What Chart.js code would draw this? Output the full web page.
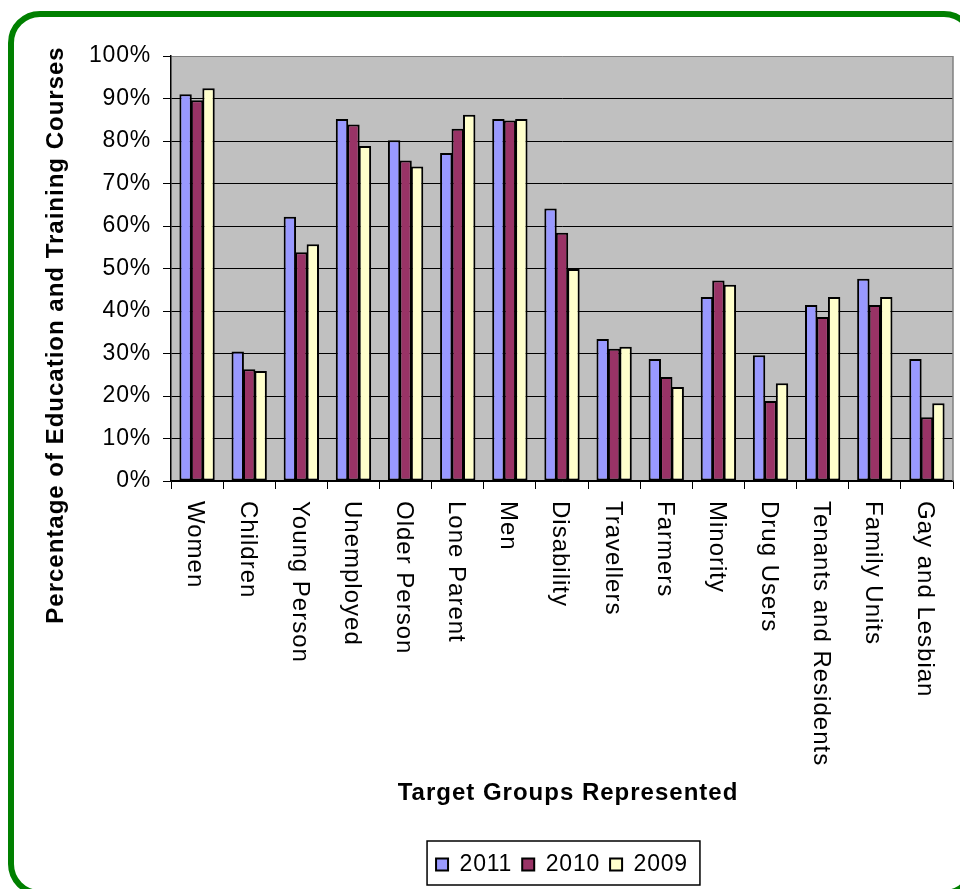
<!DOCTYPE html>
<html>
<head>
<meta charset="utf-8">
<title>Target Groups Represented</title>
<script src="https://cdn.jsdelivr.net/npm/chart.js@4.4.1/dist/chart.umd.min.js"></script>
<style>
    html, body {
        margin: 0;
        padding: 0;
        width: 960px;
        height: 889px;
        overflow: hidden;
        background: #ffffff;
    }

    #frame {
        position: absolute;
        left: 8px;
        top: 11px;
        width: 968px;
        height: 885px;
        box-sizing: border-box;
        border: 6px solid #008000;
        border-radius: 32px;
    }

    #chart {
        position: absolute;
        left: 0;
        top: 0;
    }
</style>
</head>
<body>
<div id="frame"></div>
<canvas id="chart" width="960" height="889"></canvas>

<script>
const categories = [
    "Women", "Children", "Young Person", "Unemployed", "Older Person",
    "Lone Parent", "Men", "Disability", "Travellers", "Farmers",
    "Minority", "Drug Users", "Tenants and Residents", "Family Units", "Gay and Lesbian",
];

const years = ["2011", "2010", "2009"];

const values2011 = [91.0, 30.5, 62.2, 85.2, 80.2, 77.2, 85.2, 64.1, 33.4, 28.7, 43.3, 29.6, 41.4, 47.6, 28.7];
const values2010 = [89.6, 26.3, 53.8, 83.9, 75.4, 82.9, 84.8, 58.4, 31.1, 24.5, 47.2, 18.8, 38.6, 41.4, 15.0];
const values2009 = [92.4, 25.9, 55.7, 78.8, 74.0, 86.2, 85.2, 49.9, 31.6, 22.1, 46.2, 23.0, 43.3, 43.3, 18.3];

const barColors = ["#9999ff", "#993366", "#ffffcc"];

const yTitle = "Percentage of Education and Training Courses";
const xTitle = "Target Groups Represented";

const fontFamily = "'Liberation Sans', Arial, Helvetica, sans-serif";

Chart.defaults.font.family = fontFamily;
Chart.defaults.color = "#000000";

// wider letter spacing, the original text runs a bit wide
const spacing = {
    id: "spacing",
    beforeLayout(chart) {
        chart.ctx.letterSpacing = "0.8px";
    },
    beforeDraw(chart) {
        chart.ctx.letterSpacing = "0.8px";
    },
};

// grey plot area plus its grey right edge
const plotArea = {
    id: "plotArea",
    beforeDraw(chart) {
        const { ctx, chartArea } = chart;
        ctx.save();
        ctx.fillStyle = "#c0c0c0";
        ctx.fillRect(chartArea.left, chartArea.top, chartArea.right - chartArea.left, chartArea.bottom - chartArea.top);
        ctx.restore();
    },
    beforeDatasetsDraw(chart) {
        const { ctx, chartArea } = chart;
        ctx.save();
        ctx.strokeStyle = "#808080";
        ctx.lineWidth = 1.5;
        ctx.beginPath();
        ctx.moveTo(chartArea.right, chartArea.top);
        ctx.lineTo(chartArea.right, chartArea.bottom);
        ctx.stroke();
        ctx.restore();
    },
};

// category labels read top to bottom, y title placed like the original
const labelsAndTitle = {
    id: "labelsAndTitle",
    afterDraw(chart) {
        const { ctx } = chart;
        const xScale = chart.scales.x;

        ctx.save();
        ctx.letterSpacing = "1px";
        ctx.fillStyle = "#000000";
        ctx.font = "24px " + fontFamily;
        ctx.textAlign = "left";
        ctx.textBaseline = "alphabetic";
        const capHalf = 24 * 0.716 / 2;

        categories.forEach((label, i) => {
            const x = xScale.getPixelForValue(i);
            ctx.save();
            ctx.translate(x - capHalf, 501);
            ctx.rotate(Math.PI / 2);
            ctx.fillText(label, 0, 0);
            ctx.restore();
        });

        ctx.font = "bold 24px " + fontFamily;
        ctx.textAlign = "center";
        ctx.translate(63, 335);
        ctx.rotate(-Math.PI / 2);
        ctx.fillText(yTitle, 0, 0);
        ctx.restore();

        // x title, a little right of the axis centre as in the original
        ctx.save();
        ctx.letterSpacing = "1px";
        ctx.fillStyle = "#000000";
        ctx.font = "bold 24px " + fontFamily;
        ctx.textAlign = "center";
        ctx.textBaseline = "middle";
        ctx.fillText(xTitle, (xScale.left + xScale.right) / 2 + 6, 793);
        ctx.restore();

        // box round the legend
        const legend = chart.legend;
        const boxes = legend.legendHitBoxes;
        const last = boxes[boxes.length - 1];
        const left = boxes[0].left - 9;
        const right = last.left + last.width + 12;
        ctx.save();
        ctx.strokeStyle = "#000000";
        ctx.lineWidth = 1.5;
        ctx.strokeRect(left, legend.top - 2, right - left, legend.bottom - legend.top + 1);
        ctx.restore();
    },
};

const myChart = new Chart(document.getElementById("chart"), {
    type: "bar",
    plugins: [spacing, plotArea, labelsAndTitle],
    data: {
        labels: categories,
        datasets: [
            { label: years[0], data: values2011 },
            { label: years[1], data: values2010 },
            { label: years[2], data: values2009 },
        ].map((ds, i) => ({
            ...ds,
            backgroundColor: barColors[i],
            borderColor: "#000000",
            borderWidth: 2,
            borderSkipped: false,
            categoryPercentage: 0.66,
            barPercentage: 1.08,
        })),
    },
    options: {
        responsive: false,
        animation: false,
        layout: {
            padding: { left: 0, right: 7, top: 56, bottom: 3 },
        },
        plugins: {
            tooltip: { enabled: false },
            legend: {
                position: "bottom",
                fullSize: false,
                labels: {
                    boxWidth: 12,
                    boxHeight: 12,
                    padding: 10,
                    color: "#000000",
                    font: { size: 23 },
                },
            },
        },
        scales: {
            x: {
                afterFit: (scale) => { scale.height = 362; },
                ticks: { display: false },
                grid: {
                    display: true,
                    offset: true,
                    drawOnChartArea: false,
                    drawTicks: true,
                    tickLength: 8,
                    color: "#000000",
                },
                border: { color: "#000000", width: 1.5 },
            },
            y: {
                min: 0,
                max: 100,
                afterFit: (scale) => { scale.width = 171; },
                ticks: {
                    stepSize: 10,
                    padding: 12,
                    color: "#000000",
                    font: { size: 23 },
                    callback: (v) => v + "%",
                },
                grid: {
                    color: (ctx) => (ctx.tick && ctx.tick.value === 100 ? "#808080" : "#000000"),
                    tickColor: "#000000",
                    lineWidth: 1,
                    tickLength: 8,
                },
                border: { color: "#000000", width: 1.5 },
            },
        },
    },
});
</script>
</body>
</html>
